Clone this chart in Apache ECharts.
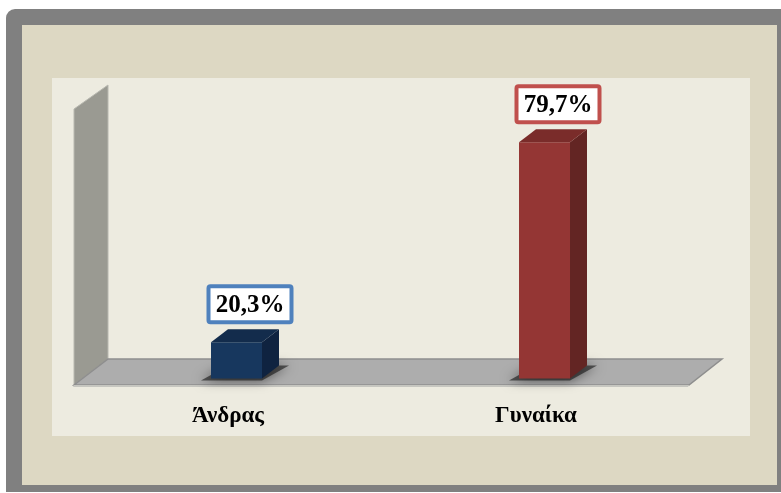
<!DOCTYPE html>
<html>
<head>
<meta charset="utf-8">
<script src="https://cdn.jsdelivr.net/npm/echarts@6/dist/echarts.min.js"></script>
<style>
  html, body { margin: 0; padding: 0; background: #fff; }
  #main { width: 781px; height: 493px; }
</style>
</head>
<body>
<div id="main"></div>
<script>
// data
var categories = ['Άνδρας', 'Γυναίκα'];
var values = [20.3, 79.7];

// colours per bar: front, side, top, label border
var barColors = [
  { front: '#17375E', side: '#0F2340', top: '#132C4C', border: '#4F81BD' },
  { front: '#943634', side: '#632523', top: '#7A2C2A', border: '#C0504D' }
];

var yMin = 9.5, yMax = 91.5;
var depth = [34, -26]; // oblique depth of the floor

function fmt(v) {
  return v.toFixed(1).replace('.', ',') + '%';
}

var chart = echarts.init(document.getElementById('main'));

function renderBar(params, api) {
  var idx = api.value(0);
  var v = api.value(1);
  var top = api.coord([idx, v]);
  var bot = api.coord([idx, yMin]);
  var c = barColors[idx];

  var sx = depth[0] * 0.25, sy = depth[1] * 0.25; // bar sits at mid-depth
  var dx = depth[0] * 0.5, dy = depth[1] * 0.5;
  var w = 51;
  var x0 = top[0] + sx - w / 2;
  var yTop = top[1] + sy;
  var yBot = bot[1] + sy;

  var boxW = 83, boxH = 36;
  var bx = x0 + 39;
  var by = yTop + dy - 7 - boxH / 2;

  return {
    type: 'group',
    children: [
      {
        type: 'polygon',
        shape: { points: [[x0 - 10, yBot + 2], [x0 + w, yBot + 2], [x0 + w + dx + 10, yBot + dy], [x0 + dx, yBot + dy]] },
        style: { fill: 'rgba(20,20,20,0.6)', shadowBlur: 12, shadowColor: 'rgba(0,0,0,0.9)' }
      },
      {
        type: 'rect',
        shape: { x: x0, y: yTop, width: w, height: yBot - yTop },
        style: { fill: c.front }
      },
      {
        type: 'polygon',
        shape: { points: [[x0 + w, yTop], [x0 + w + dx, yTop + dy], [x0 + w + dx, yBot + dy], [x0 + w, yBot]] },
        style: { fill: c.side }
      },
      {
        type: 'polygon',
        shape: { points: [[x0, yTop], [x0 + dx, yTop + dy], [x0 + w + dx, yTop + dy], [x0 + w, yTop]] },
        style: { fill: c.top }
      },
      {
        type: 'rect',
        shape: { x: bx - boxW / 2, y: by - boxH / 2, width: boxW, height: boxH, r: 2 },
        style: { fill: '#fff', stroke: c.border, lineWidth: 4 }
      },
      {
        type: 'text',
        style: {
          x: bx, y: by + 1,
          text: fmt(v),
          fill: '#000',
          font: 'bold 25px "Liberation Serif", serif',
          align: 'center',
          verticalAlign: 'middle'
        }
      }
    ]
  };
}

chart.setOption({
  animation: false,
  grid: { left: 74, right: 91, top: 109, bottom: 108 },
  graphic: [
    { type: 'rect', z: -10, shape: { x: 6, y: 9, width: 790, height: 483, r: [9, 0, 0, 0] }, style: { fill: '#808080' } },
    { type: 'rect', z: -9, shape: { x: 22, y: 25, width: 755, height: 460 }, style: { fill: '#DDD8C3' } },
    { type: 'rect', z: -8, shape: { x: 52, y: 78, width: 698, height: 358 }, style: { fill: '#EDEBE0' } },
    // left wall
    { type: 'polygon', z: -7, shape: { points: [[74, 109], [108, 85], [108, 359], [74, 385]] },
      style: { fill: '#9A9A92', stroke: '#B8B8B0', lineWidth: 1 } },
    // floor
    { type: 'polygon', z: -6, shape: { points: [[74, 385], [108, 359], [722, 359], [689, 385]] },
      style: { fill: '#ADADAD', stroke: '#8E8E8E', lineWidth: 1.5 } },
    { type: 'polygon', z: -6, shape: { points: [[74, 385], [689, 385], [688, 387], [73, 387]] },
      style: { fill: '#C6C6C0' } }
  ],
  xAxis: {
    type: 'category',
    data: categories,
    axisLine: { show: false },
    axisTick: { show: false },
    axisLabel: {
      margin: 20,
      color: '#000',
      fontFamily: 'Liberation Serif',
      fontWeight: 'bold',
      fontSize: 23
    }
  },
  yAxis: {
    type: 'value',
    min: yMin,
    max: yMax,
    show: false,
    splitLine: { show: false }
  },
  series: [{
    type: 'custom',
    z: 5,
    renderItem: renderBar,
    encode: { x: 0, y: 1 },
    data: values.map(function (v, i) { return [i, v]; })
  }]
});
</script>
</body>
</html>
